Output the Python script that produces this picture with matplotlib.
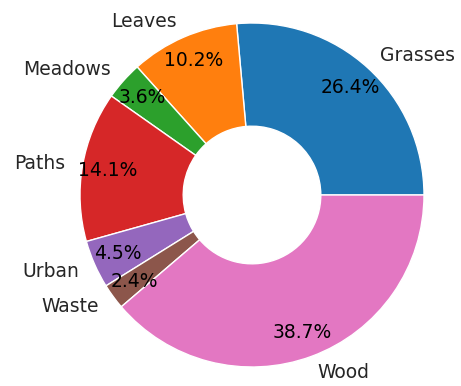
import matplotlib
matplotlib.use("Agg")
import matplotlib.pyplot as plt

labels = ["Grasses", "Leaves", "Meadows", "Paths", "Urban", "Waste", "Wood"]
shares = [26.4, 10.2, 3.6, 14.1, 4.5, 2.4, 38.7]

W, H = 461, 386
cx, cy, r = 252, 195, 172

fig = plt.figure(figsize=(W / 100, H / 100), dpi=100)
ax = fig.add_axes([0, 0, 1, 1])
wedges, texts, pcts = ax.pie(
    shares, labels=labels, autopct="%1.1f%%", pctdistance=0.85,
    startangle=0, counterclock=True,
    wedgeprops=dict(width=0.6, edgecolor="white", linewidth=1),
    textprops=dict(fontsize=13.5, color="#262626"))
for t in pcts:
    t.set_color("black")
ax.set_aspect("auto")
ax.set_xlim(-cx / r, (W - cx) / r)
ax.set_ylim(-(H - cy) / r, cy / r)
ax.axis("off")

plt.savefig("out.png", dpi=100)
